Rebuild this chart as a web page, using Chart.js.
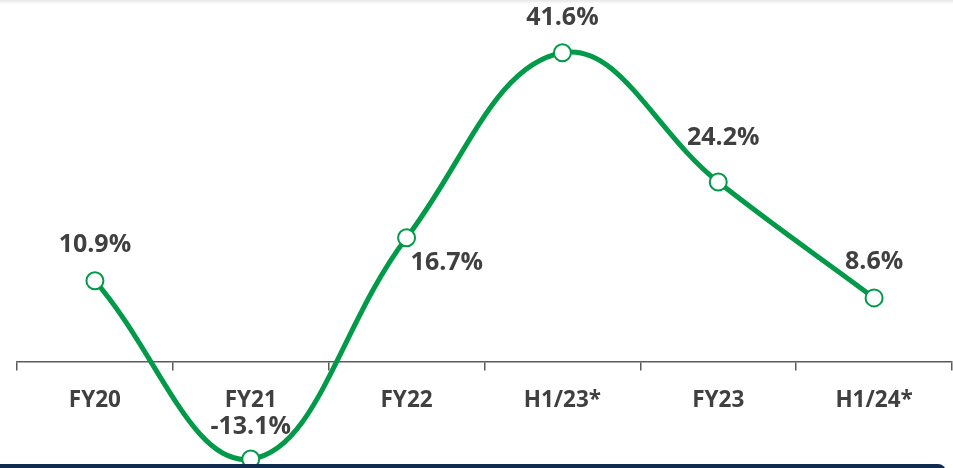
<!DOCTYPE html>
<html>
<head>
<meta charset="utf-8">
<script src="https://cdn.jsdelivr.net/npm/chart.js@4.4.1/dist/chart.umd.min.js"></script>
<style>
  html, body { margin: 0; padding: 0; background: #ffffff; }
  .frame { position: relative; width: 953px; height: 468px; overflow: hidden; }
  .frame canvas { position: absolute; left: 0; top: 0; }
  .top-shade {
    position: absolute; left: 0; top: 0; width: 953px; height: 4px;
    background: linear-gradient(#e6e6e6, rgba(255, 255, 255, 0));
  }
  .bottom-bar {
    position: absolute; left: 0; top: 464px; width: 946px; height: 12px;
    background: #0f2b50; border-top-right-radius: 8px;
  }
</style>
</head>
<body>
<div class="frame">
  <canvas id="growthChart" width="953" height="468"></canvas>
  <div class="top-shade"></div>
  <div class="bottom-bar"></div>
</div>
<script>
const periods = ["FY20", "FY21", "FY22", "H1/23*", "FY23", "H1/24*"];
const growthValues = [10.9, -13.1, 16.7, 41.6, 24.2, 8.6];
const valueLabels = ["10.9%", "-13.1%", "16.7%", "41.6%", "24.2%", "8.6%"];

const palette = {
  green: "#009a48",
  ink: "#404040",
  axis: "#5a5a5a",
};

const labelFont = "bold 25px 'Open Sans'";

// draws the percentage text next to each point
const valueLabelPlugin = {
  id: "valueLabels",
  afterDatasetsDraw(chart, args, options) {
    const ctx = chart.ctx;
    const meta = chart.getDatasetMeta(0);
    ctx.save();
    ctx.font = labelFont;
    ctx.fillStyle = palette.ink;
    ctx.textBaseline = "middle";
    meta.data.forEach((point, index) => {
      const place = options.places[index];
      ctx.textAlign = place.align;
      ctx.fillText(valueLabels[index], point.x + place.dx, point.y + place.dy);
    });
    ctx.restore();
  },
};

new Chart(document.getElementById("growthChart"), {
  type: "line",
  data: {
    labels: periods,
    datasets: [
      {
        data: growthValues,
        borderColor: palette.green,
        borderWidth: 5,
        tension: 0.4,
        pointRadius: 8.5,
        pointBorderWidth: 2,
        pointBackgroundColor: "#ffffff",
        pointBorderColor: palette.green,
        clip: false,
      },
    ],
  },
  options: {
    responsive: false,
    animation: false,
    layout: { autoPadding: false, padding: { left: 17, right: 1, top: 0, bottom: 0 } },
    plugins: {
      legend: { display: false },
      tooltip: { enabled: false },
      valueLabels: {
        places: [
          { align: "center", dx: 0, dy: -36 },
          { align: "center", dx: 0, dy: -32 },
          { align: "left", dx: 4, dy: 25 },
          { align: "center", dx: 0, dy: -35 },
          { align: "center", dx: 5, dy: -44 },
          { align: "center", dx: 0, dy: -36 },
        ],
      },
    },
    scales: {
      x: {
        position: { y: 0 },
        offset: true,
        grid: {
          offset: true,
          drawOnChartArea: false,
          color: palette.axis,
          tickLength: 8,
          lineWidth: 1.5,
        },
        border: { display: true, color: palette.axis, width: 1.5 },
        ticks: {
          color: palette.ink,
          padding: 17,
          font: { family: "Open Sans", size: 22.5, weight: "bold" },
        },
      },
      y: {
        display: false,
        min: -14.3,
        max: 48.7,
      },
    },
  },
  plugins: [valueLabelPlugin],
});
</script>
</body>
</html>
